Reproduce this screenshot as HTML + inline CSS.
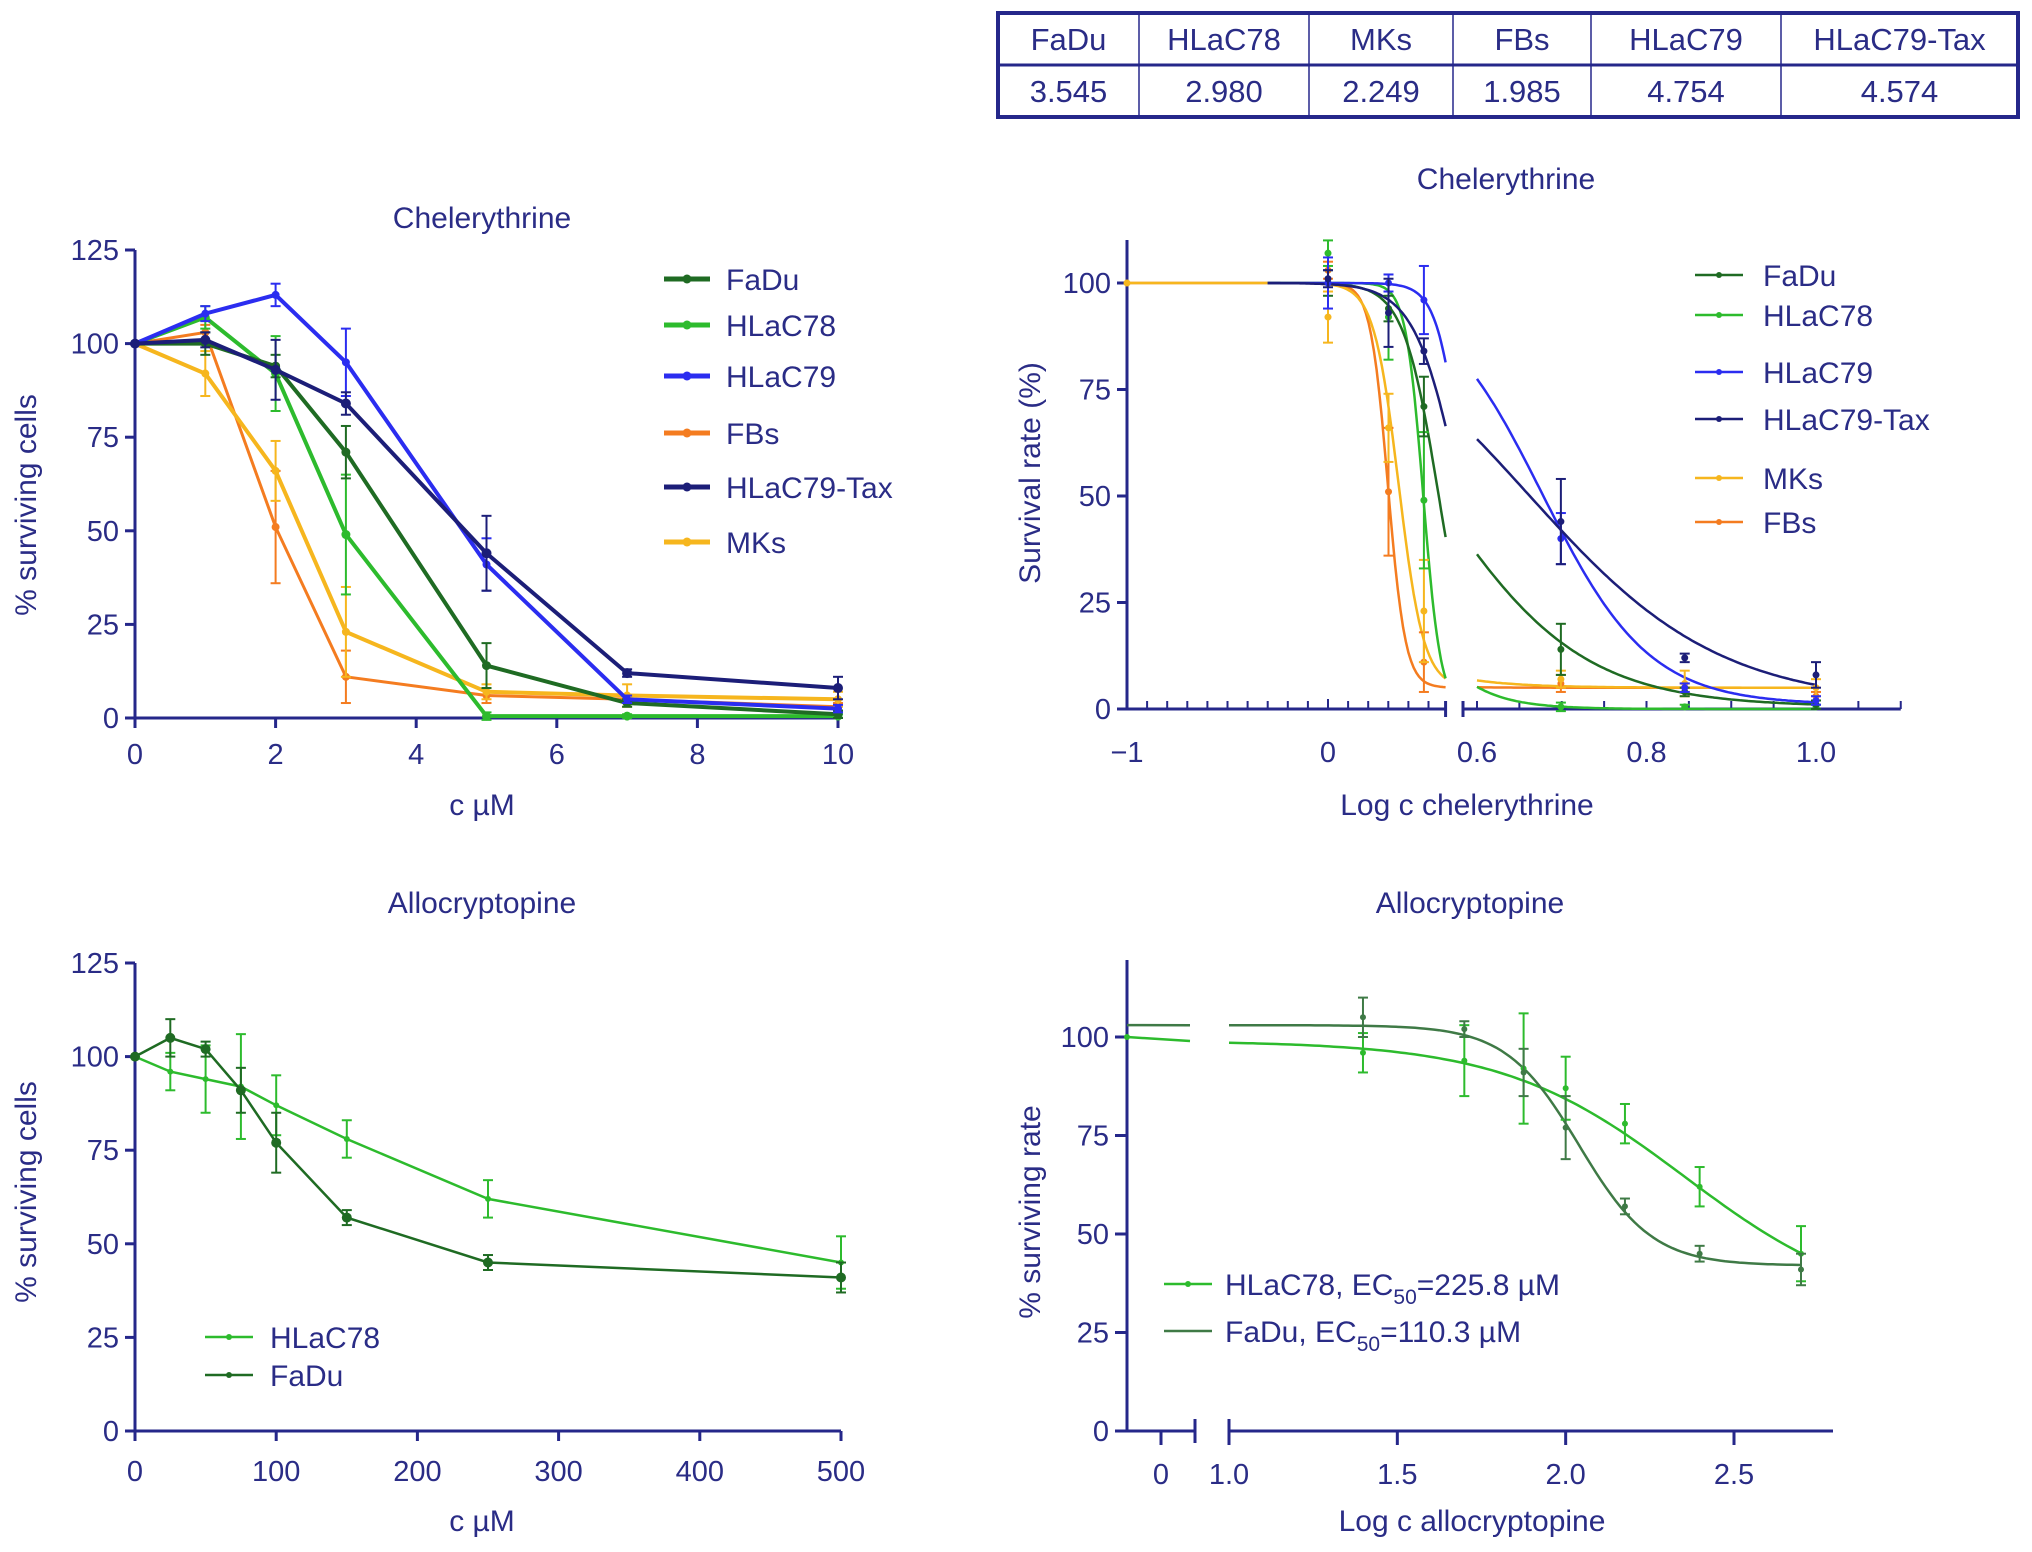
<!DOCTYPE html>
<html><head><meta charset="utf-8">
<style>
html,body{margin:0;padding:0;background:#fff;}
svg{display:block;font-family:"Liberation Sans",Arial,sans-serif;}
text{fill:#2a2c86;}
</style></head>
<body>
<svg id="fig" width="2032" height="1552" viewBox="0 0 2032 1552" xmlns="http://www.w3.org/2000/svg">
<g id="tbl"></g>
<g id="p1"></g>
<g id="p2"></g>
<g id="p3"></g>
<g id="p4"></g>
</svg>
<script>
// ---------- data ----------
const tableHeaders = ["FaDu","HLaC78","MKs","FBs","HLaC79","HLaC79-Tax"];
const tableValues = ["3.545","2.980","2.249","1.985","4.754","4.574"];

const chelConc = [0,1,2,3,5,7,10];
const cheFaDu   = [100,100,94,71,14,4,1];
const cheHLaC78 = [100,107,92,49,0.5,0.5,0.5];
const cheHLaC79 = [100,108,113,95,41,5,2.5];
const cheFBs    = [100,103,51,11,6,5,3];
const cheTax    = [100,101,93,84,44,12,8];
const cheMKs    = [100,92,66,23,7,6,5];
const errFaDu   = [0,3,3,7,6,1,1];
const errHLaC78 = [0,3,10,16,1,0.5,0.5];
const errHLaC79 = [0,2,3,9,7,1,1];
const errFBs    = [0,2,15,7,2,1,1];
const errTax    = [0,2,8,3,10,1,3];
const errMKs    = [0,6,8,12,2,3,2];
// log-chart HLaC79 values (1,2,3,5,7,10 µM)
const logHLaC79 = [100,100,96,40,5,2];
const logErrHLaC79 = [6,2,8,6,1,1];

// fitted model parameters: [logEC50, hill, bottom]
const fitFaDu   = [0.55,5,0.5];
const fitHLaC78 = [0.474,10,0];
const fitHLaC79 = [0.677,6.9,1];
const fitFBs    = [0.298,10,5];
const fitTax    = [0.66,3.85,1];
const fitMKs    = [0.352,7,5];

const alloConc   = [0,25,50,75,100,150,250,500];
const alloHLaC78 = [100,96,94,92,87,78,62,45];
const alloFaDu   = [100,105,102,91,77,57,45,41];
const errAHLaC78 = [0,5,9,14,8,5,5,7];
const errAFaDu   = [0,5,2,6,8,2,2,4];
// allocryptopine fits: [logEC50, hill, bottom, top]
const afitHLaC78 = [2.354,1.6,30,99];
const afitFaDu   = [2.04,4,42,103];

const COL = {FaDu:"#1f6b23",HLaC78:"#2dbb2d",HLaC79:"#2b2df0",FBs:"#f47c20",Tax:"#1c1e78",MKs:"#f6b61e"};
const AX = "#25278a";
const NS = "http://www.w3.org/2000/svg";

function mk(parent, tag, attrs, name, txt){
  const e = document.createElementNS(NS, tag);
  for (const k in attrs) e.setAttribute(k, attrs[k]);
  
  
  if (txt !== undefined) e.textContent = txt;
  parent.appendChild(e);
  return e;
}
function lin(d0,d1,r0,r1){return v=>r0+(v-d0)*(r1-r0)/(d1-d0);}

// ---------- table ----------
(function(){
  const g = document.getElementById('tbl');
  const xs = [998,1139,1309,1453,1591,1781,2018];
  mk(g,'rect',{x:998,y:13,width:1020,height:104,fill:'none',stroke:AX,'stroke-width':4},'table-border');
  mk(g,'line',{x1:998,y1:65,x2:2018,y2:65,stroke:AX,'stroke-width':3},'table-row-divider');
  for (let i=1;i<xs.length-1;i++) mk(g,'line',{x1:xs[i],y1:13,x2:xs[i],y2:117,stroke:AX,'stroke-width':1.5},'table-col-divider');
  tableHeaders.forEach((h,i)=>{
    const cx=(xs[i]+xs[i+1])/2;
    mk(g,'text',{x:cx,y:50,'font-size':31,'text-anchor':'middle'},'table-header-'+h.toLowerCase(),h);
    mk(g,'text',{x:cx,y:102,'font-size':31,'text-anchor':'middle'},'table-value-'+h.toLowerCase(),tableValues[i]);
  });
})();

function series(g, xs, ys, errs, sx, sy, col, name, w, r){
  let d='';
  xs.forEach((x,i)=>{ d+=(i?'L':'M')+sx(x).toFixed(1)+' '+sy(ys[i]).toFixed(1); });
  mk(g,'path',{d:d,fill:'none',stroke:col,'stroke-width':w},name+'-line');
  xs.forEach((x,i)=>{
    const X=sx(x), e=errs[i];
    if (e>0){
      mk(g,'line',{x1:X,y1:sy(ys[i]-e),x2:X,y2:sy(ys[i]+e),stroke:col,'stroke-width':2},name+'-errorbar');
      mk(g,'line',{x1:X-5,y1:sy(ys[i]+e),x2:X+5,y2:sy(ys[i]+e),stroke:col,'stroke-width':2},name+'-errorcap');
      mk(g,'line',{x1:X-5,y1:sy(ys[i]-e),x2:X+5,y2:sy(ys[i]-e),stroke:col,'stroke-width':2},name+'-errorcap');
    }
    mk(g,'circle',{cx:X,cy:sy(ys[i]),r:r,fill:col},name+'-point');
  });
}
function pointsOnly(g, xs, ys, errs, sx, sy, col, name, r){
  xs.forEach((x,i)=>{
    const X=sx(x), e=errs[i];
    if (e>0){
      mk(g,'line',{x1:X,y1:sy(ys[i]-e),x2:X,y2:sy(ys[i]+e),stroke:col,'stroke-width':2},name+'-errorbar');
      mk(g,'line',{x1:X-5,y1:sy(ys[i]+e),x2:X+5,y2:sy(ys[i]+e),stroke:col,'stroke-width':2},name+'-errorcap');
      mk(g,'line',{x1:X-5,y1:sy(ys[i]-e),x2:X+5,y2:sy(ys[i]-e),stroke:col,'stroke-width':2},name+'-errorcap');
    }
    mk(g,'circle',{cx:X,cy:sy(ys[i]),r:r,fill:col},name+'-point');
  });
}
function yAxis(g, x, y0px, ytop, ticks, sy, tickLen, name){
  mk(g,'line',{x1:x,y1:y0px+1.5,x2:x,y2:ytop,stroke:AX,'stroke-width':3},name+'-y-axis');
  ticks.forEach(t=>{
    mk(g,'line',{x1:x-tickLen,y1:sy(t),x2:x,y2:sy(t),stroke:AX,'stroke-width':3},name+'-y-tick');
    mk(g,'text',{x:x-tickLen-6,y:sy(t)+10,'font-size':29,'text-anchor':'end'},name+'-y-tick-label',String(t));
  });
}
function legend(g, x1, x2, tx, rows, names, cols, w, name){
  rows.forEach((y,i)=>{
    mk(g,'line',{x1:x1,y1:y,x2:x2,y2:y,stroke:cols[i],'stroke-width':w},name+'-legend-line');
    mk(g,'circle',{cx:(x1+x2)/2,cy:y,r:w>3?4.5:3,fill:cols[i]},name+'-legend-marker');
    mk(g,'text',{x:tx,y:y+11,'font-size':30},name+'-legend-label',names[i]);
  });
}

// ---------- panel 1 ----------
(function(){
  const g=document.getElementById('p1');
  const sx=lin(0,10,135,838), sy=lin(0,125,718,250);
  mk(g,'text',{x:482,y:228,'font-size':30,'text-anchor':'middle'},'chart-title','Chelerythrine');
  mk(g,'text',{x:0,y:0,'font-size':30,'text-anchor':'middle',transform:'translate(36,505) rotate(-90)'},'y-axis-title','% surviving cells');
  mk(g,'text',{x:482,y:815,'font-size':30,'text-anchor':'middle'},'x-axis-title','c \u00b5M');
  yAxis(g,135,718,250,[0,25,50,75,100,125],sy,10,'p1');
  mk(g,'line',{x1:133.5,y1:718,x2:838,y2:718,stroke:AX,'stroke-width':3},'p1-x-axis');
  [0,2,4,6,8,10].forEach(t=>{
    mk(g,'line',{x1:sx(t),y1:718,x2:sx(t),y2:728,stroke:AX,'stroke-width':3},'p1-x-tick');
    mk(g,'text',{x:sx(t),y:764,'font-size':29,'text-anchor':'middle'},'p1-x-tick-label',String(t));
  });
  series(g,chelConc,cheFBs,errFBs,sx,sy,COL.FBs,'fbs',3,4);
  series(g,chelConc,cheMKs,errMKs,sx,sy,COL.MKs,'mks',4,4);
  series(g,chelConc,cheHLaC78,errHLaC78,sx,sy,COL.HLaC78,'hlac78',4,4.5);
  series(g,chelConc,cheFaDu,errFaDu,sx,sy,COL.FaDu,'fadu',4,4.5);
  series(g,chelConc,cheHLaC79,errHLaC79,sx,sy,COL.HLaC79,'hlac79',4,4);
  series(g,chelConc,cheTax,errTax,sx,sy,COL.Tax,'hlac79-tax',4,5);
  legend(g,664,710,726,[279,325,376,433,487,542],["FaDu","HLaC78","HLaC79","FBs","HLaC79-Tax","MKs"],
    [COL.FaDu,COL.HLaC78,COL.HLaC79,COL.FBs,COL.Tax,COL.MKs],5,'p1');
})();

// ---------- panel 2 ----------
(function(){
  const g=document.getElementById('p2');
  const sxL=lin(-1,0,1127,1328), sxR=lin(0.6,1.0,1477,1816);
  const sy=lin(0,100,709,283);
  const segL=[-1,0.585], segR=[0.6,1.1];
  function sx(v){return v<0.59?sxL(v):sxR(v);}
  mk(g,'text',{x:1506,y:189,'font-size':30,'text-anchor':'middle'},'chart-title','Chelerythrine');
  mk(g,'text',{x:0,y:0,'font-size':30,'text-anchor':'middle',transform:'translate(1040,473) rotate(-90)'},'y-axis-title','Survival rate (%)');
  mk(g,'text',{x:1467,y:815,'font-size':30,'text-anchor':'middle'},'x-axis-title','Log c chelerythrine');
  yAxis(g,1127,709,240,[0,25,50,75,100],sy,10,'p2');
  mk(g,'line',{x1:1125.5,y1:709,x2:sxL(segL[1]),y2:709,stroke:AX,'stroke-width':3},'p2-x-axis-left');
  mk(g,'line',{x1:sxL(segL[1]),y1:701,x2:sxL(segL[1]),y2:717,stroke:AX,'stroke-width':3},'p2-axis-break');
  mk(g,'line',{x1:sxR(segR[0])-14,y1:709,x2:sxR(segR[1]),y2:709,stroke:AX,'stroke-width':3},'p2-x-axis-right');
  mk(g,'line',{x1:sxR(segR[0])-14,y1:701,x2:sxR(segR[0])-14,y2:717,stroke:AX,'stroke-width':3},'p2-axis-break');
  for(let i=-10;i<=5;i++){const v=i/10;const big=(i===-10||i===0);
    mk(g,'line',{x1:sxL(v),y1:709,x2:sxL(v),y2:709-(big?10:8),stroke:AX,'stroke-width':2},'p2-x-minor-tick');}
  for(let i=12;i<=22;i++){const v=i/20;
    mk(g,'line',{x1:sxR(v),y1:709,x2:sxR(v),y2:701,stroke:AX,'stroke-width':2},'p2-x-minor-tick');}
  [[-1,'\u22121'],[0,'0']].forEach(t=>mk(g,'text',{x:sxL(t[0]),y:762,'font-size':29,'text-anchor':'middle'},'p2-x-tick-label',t[1]));
  [[0.6,'0.6'],[0.8,'0.8'],[1.0,'1.0']].forEach(t=>mk(g,'text',{x:sxR(t[0]),y:762,'font-size':29,'text-anchor':'middle'},'p2-x-tick-label',t[1]));
  function curve(p,col,name,start){
    const f=x=>p[2]+(100-p[2])/(1+Math.pow(10,(x-p[0])*p[1]));
    [[start,segL[1],sxL],[segR[0],1.0,sxR]].forEach(s=>{
      let d='';
      for(let i=0;i<=120;i++){const x=s[0]+(s[1]-s[0])*i/120;d+=(i?'L':'M')+s[2](x).toFixed(1)+' '+sy(f(x)).toFixed(1);}
      mk(g,'path',{d:d,fill:'none',stroke:col,'stroke-width':2.5},name+'-fit-curve');
    });
  }
  const logX=chelConc.slice(1).map(c=>Math.log10(c));
  curve(fitFBs,COL.FBs,'fbs',-1);
  curve(fitMKs,COL.MKs,'mks',-1);
  curve(fitHLaC78,COL.HLaC78,'hlac78',-0.3);
  curve(fitFaDu,COL.FaDu,'fadu',-0.3);
  curve(fitHLaC79,COL.HLaC79,'hlac79',-0.3);
  curve(fitTax,COL.Tax,'hlac79-tax',-0.3);
  const S=[[cheFBs.slice(1),errFBs.slice(1),COL.FBs,'fbs'],[cheMKs.slice(1),errMKs.slice(1),COL.MKs,'mks'],
           [cheHLaC78.slice(1),errHLaC78.slice(1),COL.HLaC78,'hlac78'],[cheFaDu.slice(1),errFaDu.slice(1),COL.FaDu,'fadu'],
           [logHLaC79,logErrHLaC79,COL.HLaC79,'hlac79'],[cheTax.slice(1),errTax.slice(1),COL.Tax,'hlac79-tax']];
  S.forEach(s=>pointsOnly(g,logX,s[0],s[1],sx,sy,s[2],s[3],3.5));
  mk(g,'circle',{cx:sxL(-1),cy:sy(100),r:3.5,fill:COL.MKs},'control-point');
  legend(g,1695,1743,1763,[275,315,372,419,478,522],["FaDu","HLaC78","HLaC79","HLaC79-Tax","MKs","FBs"],
    [COL.FaDu,COL.HLaC78,COL.HLaC79,COL.Tax,COL.MKs,COL.FBs],2.5,'p2');
})();

// ---------- panel 3 ----------
(function(){
  const g=document.getElementById('p3');
  const sx=lin(0,500,135,841), sy=lin(0,125,1431,963);
  mk(g,'text',{x:482,y:913,'font-size':30,'text-anchor':'middle'},'chart-title','Allocryptopine');
  mk(g,'text',{x:0,y:0,'font-size':30,'text-anchor':'middle',transform:'translate(36,1192) rotate(-90)'},'y-axis-title','% surviving cells');
  mk(g,'text',{x:482,y:1531,'font-size':30,'text-anchor':'middle'},'x-axis-title','c \u00b5M');
  yAxis(g,135,1431,963,[0,25,50,75,100,125],sy,10,'p3');
  mk(g,'line',{x1:133.5,y1:1431,x2:841,y2:1431,stroke:AX,'stroke-width':3},'p3-x-axis');
  [0,100,200,300,400,500].forEach(t=>{
    mk(g,'line',{x1:sx(t),y1:1431,x2:sx(t),y2:1441,stroke:AX,'stroke-width':3},'p3-x-tick');
    mk(g,'text',{x:sx(t),y:1481,'font-size':29,'text-anchor':'middle'},'p3-x-tick-label',String(t));
  });
  series(g,alloConc,alloHLaC78,errAHLaC78,sx,sy,COL.HLaC78,'hlac78',2.5,3);
  series(g,alloConc,alloFaDu,errAFaDu,sx,sy,COL.FaDu,'fadu',2.5,5);
  legend(g,205,253,270,[1337,1375],["HLaC78","FaDu"],[COL.HLaC78,COL.FaDu],2.5,'p3');
})();

// ---------- panel 4 ----------
(function(){
  const g=document.getElementById('p4');
  const sxL=lin(-0.5,0.5,1127,1195), sxR=lin(1.0,2.5,1229,1734);
  const sy=lin(0,100,1431,1037);
  mk(g,'text',{x:1470,y:913,'font-size':30,'text-anchor':'middle'},'chart-title','Allocryptopine');
  mk(g,'text',{x:0,y:0,'font-size':30,'text-anchor':'middle',transform:'translate(1040,1212) rotate(-90)'},'y-axis-title','% surviving rate');
  mk(g,'text',{x:1472,y:1531,'font-size':30,'text-anchor':'middle'},'x-axis-title','Log c allocryptopine');
  yAxis(g,1127,1431,960,[0,25,50,75,100],sy,12,'p4');
  mk(g,'line',{x1:1125.5,y1:1431,x2:1195,y2:1431,stroke:AX,'stroke-width':3},'p4-x-axis-left');
  mk(g,'line',{x1:1195,y1:1419,x2:1195,y2:1443,stroke:AX,'stroke-width':3},'p4-axis-break');
  mk(g,'line',{x1:1229,y1:1431,x2:1833,y2:1431,stroke:AX,'stroke-width':3},'p4-x-axis-right');
  mk(g,'line',{x1:1229,y1:1419,x2:1229,y2:1443,stroke:AX,'stroke-width':3},'p4-axis-break');
  mk(g,'line',{x1:sxL(0),y1:1431,x2:sxL(0),y2:1445,stroke:AX,'stroke-width':3},'p4-x-tick');
  mk(g,'text',{x:sxL(0),y:1484,'font-size':29,'text-anchor':'middle'},'p4-x-tick-label','0');
  [1.0,1.5,2.0,2.5].forEach(t=>{
    mk(g,'line',{x1:sxR(t),y1:1431,x2:sxR(t),y2:1445,stroke:AX,'stroke-width':3},'p4-x-tick');
    mk(g,'text',{x:sxR(t),y:1484,'font-size':29,'text-anchor':'middle'},'p4-x-tick-label',t.toFixed(1));
  });
  function curve(p,col,name,leftStart){
    const f=x=>p[2]+(p[3]-p[2])/(1+Math.pow(10,(x-p[0])*p[1]));
    mk(g,'line',{x1:1127,y1:sy(leftStart),x2:1190,y2:sy(leftStart-(leftStart-f(1.0))*0.7),stroke:col,'stroke-width':2.5},name+'-fit-left');
    let d='';
    for(let i=0;i<=120;i++){const x=1.0+1.7*i/120;d+=(i?'L':'M')+sxR(x).toFixed(1)+' '+sy(f(x)).toFixed(1);}
    mk(g,'path',{d:d,fill:'none',stroke:col,'stroke-width':2.5},name+'-fit-curve');
  }
  curve(afitHLaC78,COL.HLaC78,'hlac78',100);
  curve(afitFaDu,'#3f7a46','fadu',103);
  const lx=alloConc.slice(1).map(c=>Math.log10(c));
  pointsOnly(g,lx,alloHLaC78.slice(1),errAHLaC78.slice(1),sxR,sy,COL.HLaC78,'hlac78',3);
  pointsOnly(g,lx,alloFaDu.slice(1),errAFaDu.slice(1),sxR,sy,'#3f7a46','fadu',3);
  mk(g,'circle',{cx:1127,cy:sy(alloHLaC78[0]),r:3,fill:COL.HLaC78},'control-point');
  // legend
  mk(g,'line',{x1:1164,y1:1284,x2:1212,y2:1284,stroke:COL.HLaC78,'stroke-width':2.5},'p4-legend-line');
  mk(g,'circle',{cx:1188,cy:1284,r:3,fill:COL.HLaC78},'p4-legend-marker');
  const t1=mk(g,'text',{x:1225,y:1295,'font-size':30},'p4-legend-label','HLaC78, EC');
  const s1=document.createElementNS(NS,'tspan');s1.setAttribute('font-size','21');s1.setAttribute('dy','9');s1.textContent='50';t1.appendChild(s1);
  const s2=document.createElementNS(NS,'tspan');s2.setAttribute('dy','-9');s2.textContent='=225.8 \u00b5M';t1.appendChild(s2);
  mk(g,'line',{x1:1164,y1:1331,x2:1212,y2:1331,stroke:'#3f7a46','stroke-width':2.5},'p4-legend-line');
  const t2=mk(g,'text',{x:1225,y:1342,'font-size':30},'p4-legend-label','FaDu, EC');
  const s3=document.createElementNS(NS,'tspan');s3.setAttribute('font-size','21');s3.setAttribute('dy','9');s3.textContent='50';t2.appendChild(s3);
  const s4=document.createElementNS(NS,'tspan');s4.setAttribute('dy','-9');s4.textContent='=110.3 \u00b5M';t2.appendChild(s4);
})();
</script>
</body></html>
